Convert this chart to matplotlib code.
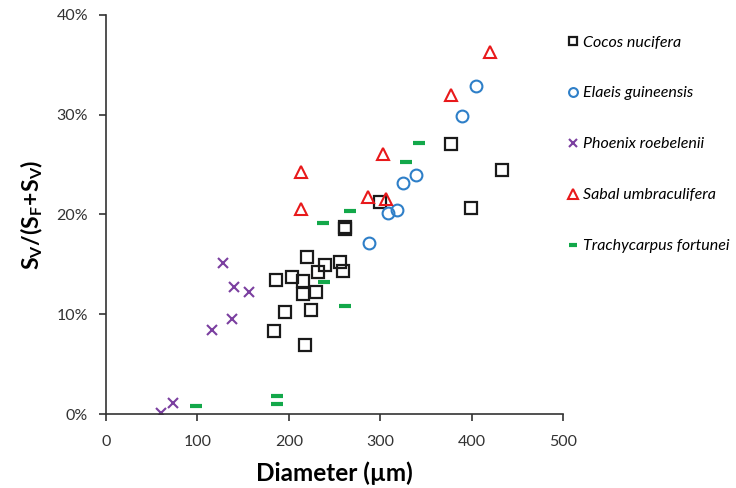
import matplotlib
matplotlib.use("Agg")
import matplotlib.pyplot as plt
from matplotlib.ticker import PercentFormatter, MultipleLocator

plt.rcParams['font.family'] = ['Lato', 'DejaVu Sans']
plt.rcParams['mathtext.fontset'] = 'custom'
plt.rcParams['mathtext.rm'] = 'Lato'
plt.rcParams['mathtext.bf'] = 'Lato:bold'
plt.rcParams['mathtext.it'] = 'Lato:italic'

# Data: diameter (µm), ratio (%)
cocos_x = [184, 186, 196, 203, 215, 215, 218, 220, 224, 230, 232, 240, 256, 259, 261, 261, 300, 377, 399, 433]
cocos_y = [8.3, 13.4, 10.2, 13.7, 13.3, 12.0, 6.9, 15.7, 10.4, 12.2, 14.2, 14.9, 15.2, 14.3, 18.5, 18.7, 21.3, 27.1, 20.7, 24.5]

elaeis_x = [288, 308, 318, 325, 339, 390, 405]
elaeis_y = [17.1, 20.2, 20.5, 23.2, 24.0, 29.9, 32.9]

phoenix_x = [60, 73, 116, 128, 138, 140, 156]
phoenix_y = [0.1, 1.1, 8.4, 15.1, 9.5, 12.7, 12.2]

sabal_x = [213, 213, 287, 303, 306, 378, 420]
sabal_y = [24.3, 20.6, 21.8, 26.1, 21.6, 32.0, 36.3]

trachy_x = [98, 187, 187, 237, 239, 261, 267, 328, 342]
trachy_y = [0.8, 1.8, 1.0, 19.1, 13.2, 10.8, 20.4, 25.3, 27.2]

labels = ["Cocos nucifera", "Elaeis guineensis", "Phoenix roebelenii",
          "Sabal umbraculifera", "Trachycarpus fortunei"]

fig = plt.figure(figsize=(7.36, 4.88), dpi=100)
ax = fig.add_axes([106/736, 1 - 414/488, (563-106)/736, (414-15)/488])

ax.plot(cocos_x, [v/100 for v in cocos_y], ls='none', marker='s', ms=8,
        mfc='none', mec='#1a1a1a', mew=1.6, label=labels[0])
ax.plot(elaeis_x, [v/100 for v in elaeis_y], ls='none', marker='o', ms=8.5,
        mfc='none', mec='#2e7fc8', mew=1.5, label=labels[1])
ax.plot(phoenix_x, [v/100 for v in phoenix_y], ls='none', marker='x', ms=7.5,
        mec='#7b3fa0', mew=1.5, label=labels[2])
ax.plot(sabal_x, [v/100 for v in sabal_y], ls='none', marker='^', ms=9,
        mfc='none', mec='#e8191b', mew=1.5, label=labels[3])
ax.plot(trachy_x, [v/100 for v in trachy_y], ls='none', marker='_', ms=8,
        mec='#13a84a', mew=3, label=labels[4])

ax.set_xlim(0, 500)
ax.set_ylim(0, 0.40)
ax.xaxis.set_major_locator(MultipleLocator(100))
ax.yaxis.set_major_locator(MultipleLocator(0.10))
ax.yaxis.set_major_formatter(PercentFormatter(1.0, decimals=0))

for s in ['top', 'right']:
    ax.spines[s].set_visible(False)
for s in ['left', 'bottom']:
    ax.spines[s].set_color('#333333')
    ax.spines[s].set_linewidth(1.2)
ax.tick_params(direction='out', length=5, width=1.2, color='#333333',
               labelsize=11.5, labelcolor='#333333')
ax.tick_params(axis='x', pad=10)
ax.tick_params(axis='y', pad=8)

ax.set_xlabel('Diameter (µm)', fontsize=17.5, fontweight='bold', labelpad=9)
ax.set_ylabel(r'$\mathbf{S_V/(S_F\!+\!S_V)}$', fontsize=16.5, labelpad=8)

leg = fig.legend(loc='upper left', bbox_to_anchor=(553/736, 1 - 21/488),
                 frameon=False, prop={'style': 'italic', 'size': 11.5},
                 labelspacing=2.3, handlelength=0.7, handletextpad=0.25,
                 markerscale=0.75)

fig.savefig('out.png', dpi=100)
